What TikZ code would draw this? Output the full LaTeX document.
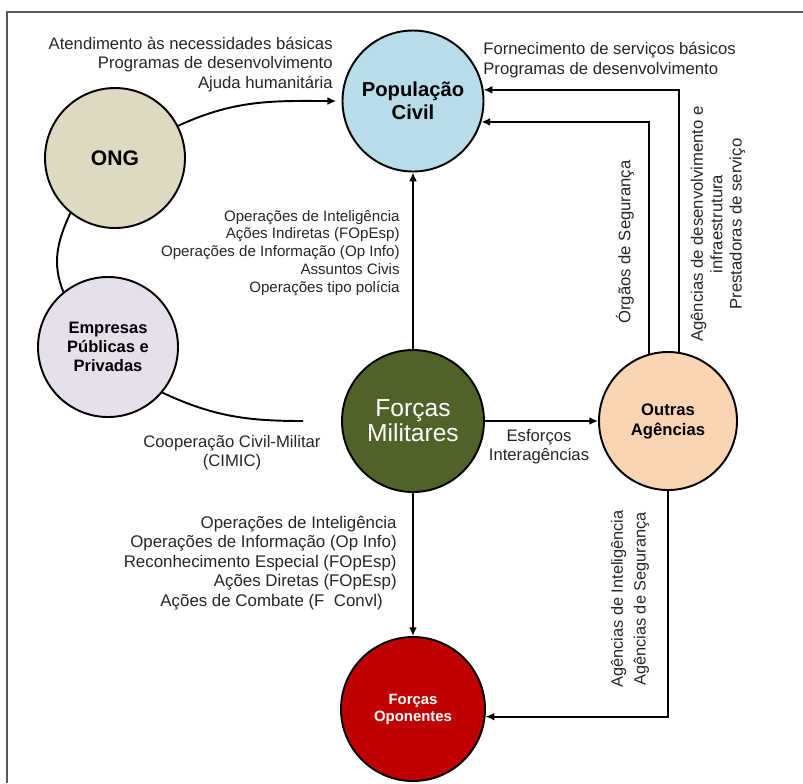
\documentclass[tikz,border=0pt]{standalone}
\usepackage{fontspec}
\setmainfont{Liberation Sans}
\usetikzlibrary{shapes,arrows.meta}
\definecolor{popblue}{HTML}{B7DDE8}
\definecolor{ongtan}{HTML}{DDD9C3}
\definecolor{emplilac}{HTML}{E5E0EC}
\definecolor{milgreen}{HTML}{4F6228}
\definecolor{outpeach}{HTML}{FBD4B4}
\definecolor{opored}{HTML}{C00000}
\tikzset{
  actor/.style={circle, draw, line width=1.1pt, minimum size=2.8cm, inner sep=0pt, align=center},
  flowtext/.style={inner sep=0pt, text=black!85, font=\fontsize{9.5}{11}\selectfont},
  flow/.style={->, line width=1.1pt},
  link/.style={line width=1.1pt},
  >={Latex[length=5pt,width=4.5pt]}
}
\newcommand{\actornode}[4] {\node at (#1) (#2) [actor, #3] {#4};}
\newcommand{\flowlabel}[4] {\node at (#1) (#2) [flowtext, #3] {#4};}
\newcommand{\straightflow}[2] {\draw [flow] (#1) -- (#2);}
\newcommand{\elbowflow}[2] {\draw [flow] (#1) |- (#2);}

\begin{document}
\begin{tikzpicture}

\useasboundingbox (0,0) rectangle (16.06,-15.66);
\draw [black!65, line width=1pt] (0.14,-15.66) -- (0.14,-0.24) -- (16.06,-0.24);

\actornode {8.26,-2.02} {pop} {fill=popblue, minimum size=2.82cm, font=\bfseries\fontsize{11.5}{13}\selectfont} {População\\Civil};
\actornode {2.30,-3.16} {ong} {fill=ongtan, font=\bfseries\fontsize{12}{14}\selectfont} {ONG};
\actornode {2.16,-6.94} {emp} {fill=emplilac, font=\bfseries\fontsize{9.4}{10.8}\selectfont} {Empresas\\Públicas e\\Privadas};
\actornode {8.26,-8.42} {mil} {fill=milgreen, text=white, minimum size=2.84cm, font=\fontsize{14}{13}\selectfont} {Forças\\Militares};
\actornode {13.36,-8.42} {outras} {fill=outpeach, minimum size=2.76cm, font=\bfseries\fontsize{9.5}{11.3}\selectfont} {Outras\\Agências};
\actornode {8.26,-14.18} {opo} {fill=opored, text=white, minimum size=2.88cm, font=\bfseries\fontsize{8.5}{9.6}\selectfont} {Forças\\Oponentes};

\coordinate (cimicend) at (6.06,-8.42);

\straightflow{mil.north}{pop.south}
\straightflow{mil.east}{outras.west}
\straightflow{mil.south}{opo.north}
\elbowflow{outras.81}{pop.9}
\elbowflow{outras.106}{pop.-17}
\elbowflow{outras.south}{opo.-6}
\draw [flow, shorten >=3pt] (ong.27) to [out=25, in=180] (pop.west);
\draw [link] (ong.231) to [out=245, in=112] (emp.129);
\draw [link] (emp.-40) to [out=-25, in=180] (cimicend);

\flowlabel {6.66,-1.29} {ongflow} {anchor=east, align=right} {Atendimento às necessidades básicas\\Programas de desenvolvimento\\Ajuda humanitária};
\flowlabel {9.66,-1.2} {popflow} {anchor=west, align=left} {Fornecimento de serviços básicos\\Programas de desenvolvimento};
\flowlabel {8.0,-5.06} {milpop} {anchor=east, align=right, font=\fontsize{8.6}{10.2}\selectfont} {Operações de Inteligência\\Ações Indiretas (FOpEsp)\\Operações de Informação (Op Info)\\Assuntos Civis\\Operações tipo polícia};
\flowlabel {4.64,-9.05} {cimic} {align=center} {Cooperação Civil-Militar\\(CIMIC)};
\flowlabel {10.78,-8.93} {esforcos} {align=center} {Esforços\\Interagências};
\flowlabel {7.94,-11.26} {milopo} {anchor=east, align=right, font=\fontsize{9.6}{11.1}\selectfont} {Operações de Inteligência\\Operações de Informação (Op Info)\\Reconhecimento Especial (FOpEsp)\\Ações Diretas (FOpEsp)\\Ações de Combate (F~ Convl)\hspace*{0.28cm}};
\flowlabel {12.50,-4.84} {orgaos} {rotate=90} {Órgãos de Segurança};
\flowlabel {14.36,-4.48} {agdesenv} {rotate=90, align=center} {Agências de desenvolvimento e\\infraestrutura\\Prestadoras de serviço};
\flowlabel {12.60,-11.98} {agintel} {rotate=90, align=center, font=\fontsize{9.3}{13}\selectfont} {Agências de Inteligência\\Agências de Segurança};

\end{tikzpicture}
\end{document}
